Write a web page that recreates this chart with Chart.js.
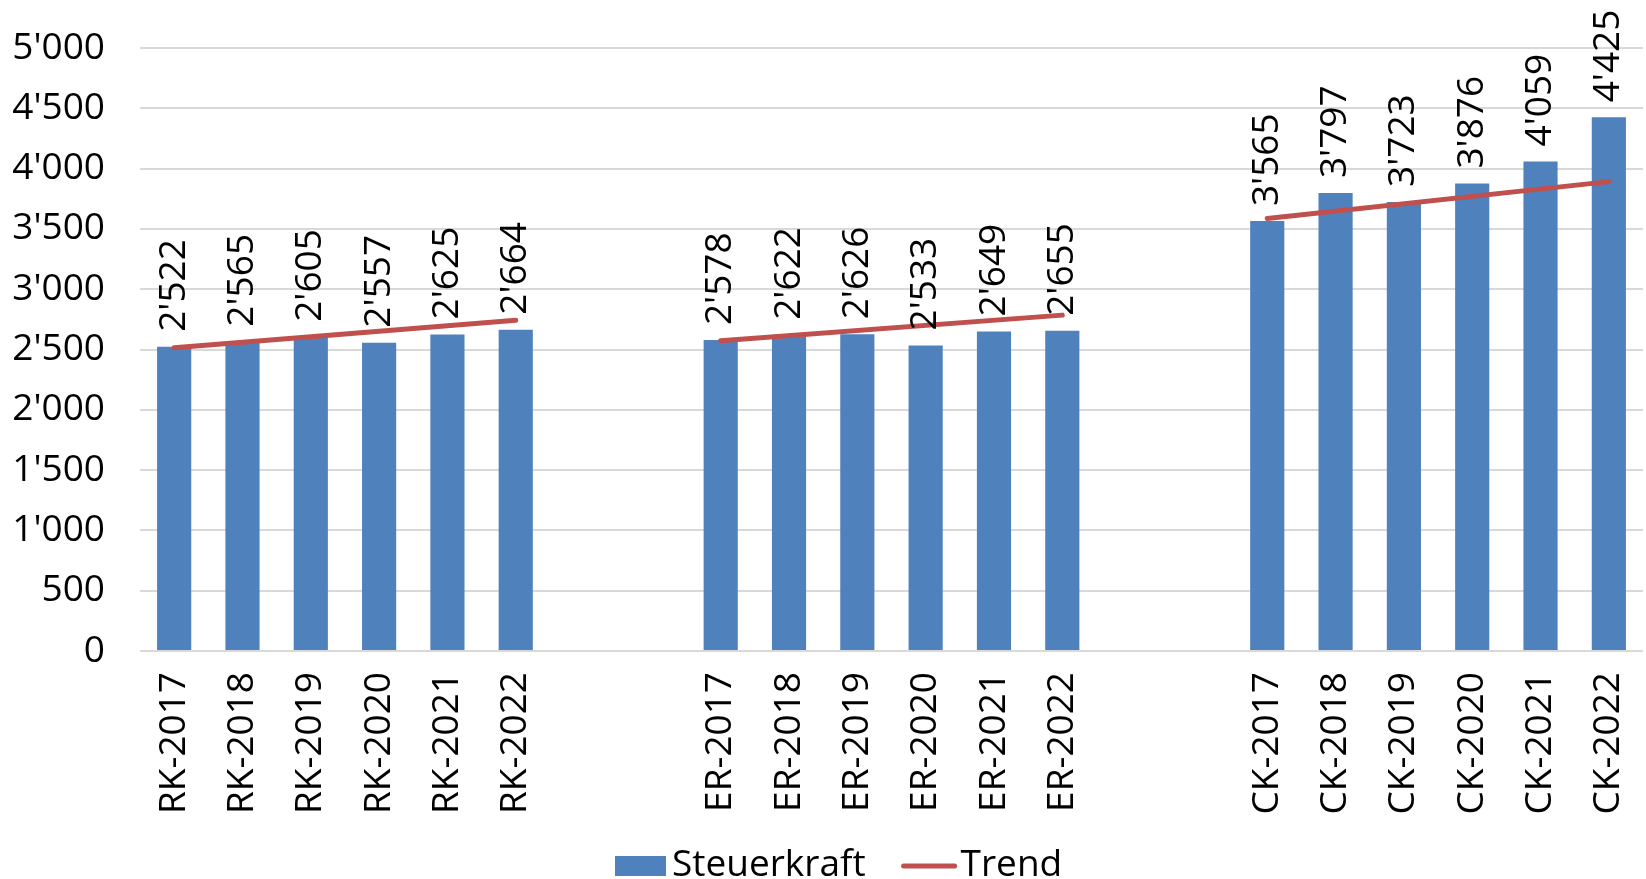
<!DOCTYPE html>
<html lang="de">
<head>
<meta charset="utf-8">
<title>Steuerkraft</title>
<script src="https://cdn.jsdelivr.net/npm/chart.js@4/dist/chart.umd.min.js"></script>
<style>
  html, body { margin: 0; padding: 0; background: #ffffff; }
  canvas { display: block; }
</style>
</head>
<body>
<canvas id="chart" width="1646" height="879" style="width:1646px;height:879px"></canvas>
<script>
// Categories: three groups of years, separated by two empty slots each
const categories = [
  'RK-2017', 'RK-2018', 'RK-2019', 'RK-2020', 'RK-2021', 'RK-2022', '', '',
  'ER-2017', 'ER-2018', 'ER-2019', 'ER-2020', 'ER-2021', 'ER-2022', '', '',
  'CK-2017', 'CK-2018', 'CK-2019', 'CK-2020', 'CK-2021', 'CK-2022'
];

// Steuerkraft per category
const steuerkraft = [
  2522, 2565, 2605, 2557, 2625, 2664, null, null,
  2578, 2622, 2626, 2533, 2649, 2655, null, null,
  3565, 3797, 3723, 3876, 4059, 4425
];

// Trend line end points for each group
const trend = [
  2515, null, null, null, null, 2743, null, null,
  2573, null, null, null, null, 2785, null, null,
  3587, null, null, null, null, 3892
];

// Y axis ticks
const yTicks = [0, 500, 1000, 1500, 2000, 2500, 3000, 3500, 4000, 4500, 5000];

const seriesNames = ['Steuerkraft', 'Trend'];

const BLUE = '#4F81BD';
const RED = '#C0504D';
const FONT_FAMILY = '"Open Sans", "Noto Sans", sans-serif';
const FONT_SIZE = 37;

// Swiss thousands separator: 5'000
function fmt(v) {
  return String(v).replace(/\B(?=(\d{3})+(?!\d))/g, "'");
}

function groupOf(i) {
  return categories[i].slice(0, 2);
}

// Rotated value labels above each bar
const barValueLabels = {
  id: 'barValueLabels',
  afterDatasetsDraw(chart) {
    const meta = chart.getDatasetMeta(1);
    const data = chart.data.datasets[1].data;
    const ctx = chart.ctx;
    ctx.save();
    ctx.fillStyle = '#000000';
    ctx.font = FONT_SIZE + 'px ' + FONT_FAMILY;
    ctx.textAlign = 'left';
    ctx.textBaseline = 'middle';
    meta.data.forEach((bar, i) => {
      const v = data[i];
      if (v === null || v === undefined) return;
      ctx.save();
      ctx.translate(bar.x, bar.y - 15);
      ctx.rotate(-Math.PI / 2);
      ctx.fillText(fmt(v), 0, 0);
      ctx.restore();
    });
    ctx.restore();
  }
};

// Legend below the axis labels: filled box for the bars, stroke for the trend
const bottomLegend = {
  id: 'bottomLegend',
  afterDraw(chart) {
    const ctx = chart.ctx;
    const ds = chart.data.datasets;
    const bars = ds[1];
    const line = ds[0];
    const midY = 866;
    const baseY = 876;
    ctx.save();
    ctx.font = FONT_SIZE + 'px ' + FONT_FAMILY;
    ctx.textBaseline = 'alphabetic';
    ctx.textAlign = 'left';

    let x = 615;
    ctx.fillStyle = bars.backgroundColor;
    ctx.fillRect(x, midY - 10, 51, 20);
    x += 51 + 6;
    ctx.fillStyle = '#000000';
    ctx.fillText(bars.label, x, baseY);
    x += ctx.measureText(bars.label).width + 38;

    ctx.strokeStyle = line.borderColor;
    ctx.lineWidth = line.borderWidth;
    ctx.lineCap = 'round';
    ctx.beginPath();
    ctx.moveTo(x, midY);
    ctx.lineTo(x + 51, midY);
    ctx.stroke();
    x += 51 + 6;
    ctx.fillText(line.label, x, baseY);
    ctx.restore();
  }
};

new Chart(document.getElementById('chart'), {
  type: 'bar',
  data: {
    labels: categories,
    datasets: [
      {
        type: 'line',
        label: seriesNames[1],
        data: trend,
        borderColor: RED,
        backgroundColor: RED,
        borderWidth: 5,
        borderCapStyle: 'round',
        pointRadius: 0,
        pointHoverRadius: 0,
        spanGaps: true,
        tension: 0,
        order: 0,
        segment: {
          borderColor: (c) => groupOf(c.p0DataIndex) === groupOf(c.p1DataIndex) ? RED : 'rgba(0,0,0,0)'
        }
      },
      {
        type: 'bar',
        label: seriesNames[0],
        data: steuerkraft,
        backgroundColor: BLUE,
        borderWidth: 0,
        categoryPercentage: 1,
        barPercentage: 0.5,
        order: 1
      }
    ]
  },
  options: {
    responsive: false,
    devicePixelRatio: 1,
    animation: false,
    layout: { padding: { top: 48, right: 3, bottom: 0, left: 0 } },
    plugins: {
      legend: { display: false },
      tooltip: { enabled: false },
      title: { display: false }
    },
    scales: {
      x: {
        offset: true,
        grid: { display: false },
        border: { display: false },
        ticks: {
          autoSkip: false,
          minRotation: 90,
          maxRotation: 90,
          padding: 13,
          color: '#000000',
          font: { family: FONT_FAMILY, size: FONT_SIZE }
        },
        afterFit(scale) {
          scale.height = 228;
          scale.paddingLeft = 0;
          scale.paddingRight = 0;
        }
      },
      y: {
        min: yTicks[0],
        max: yTicks[yTicks.length - 1],
        afterBuildTicks(scale) { scale.ticks = yTicks.map(v => ({ value: v })); },
        grid: { color: '#D9D9D9', lineWidth: 2, drawTicks: false },
        border: { display: false },
        ticks: {
          padding: 35,
          color: '#000000',
          font: { family: FONT_FAMILY, size: FONT_SIZE },
          callback: (v) => fmt(v)
        },
        afterFit(scale) {
          scale.width = 140;
          scale.paddingTop = 0;
          scale.paddingBottom = 0;
        }
      }
    }
  },
  plugins: [barValueLabels, bottomLegend]
});
</script>
</body>
</html>
